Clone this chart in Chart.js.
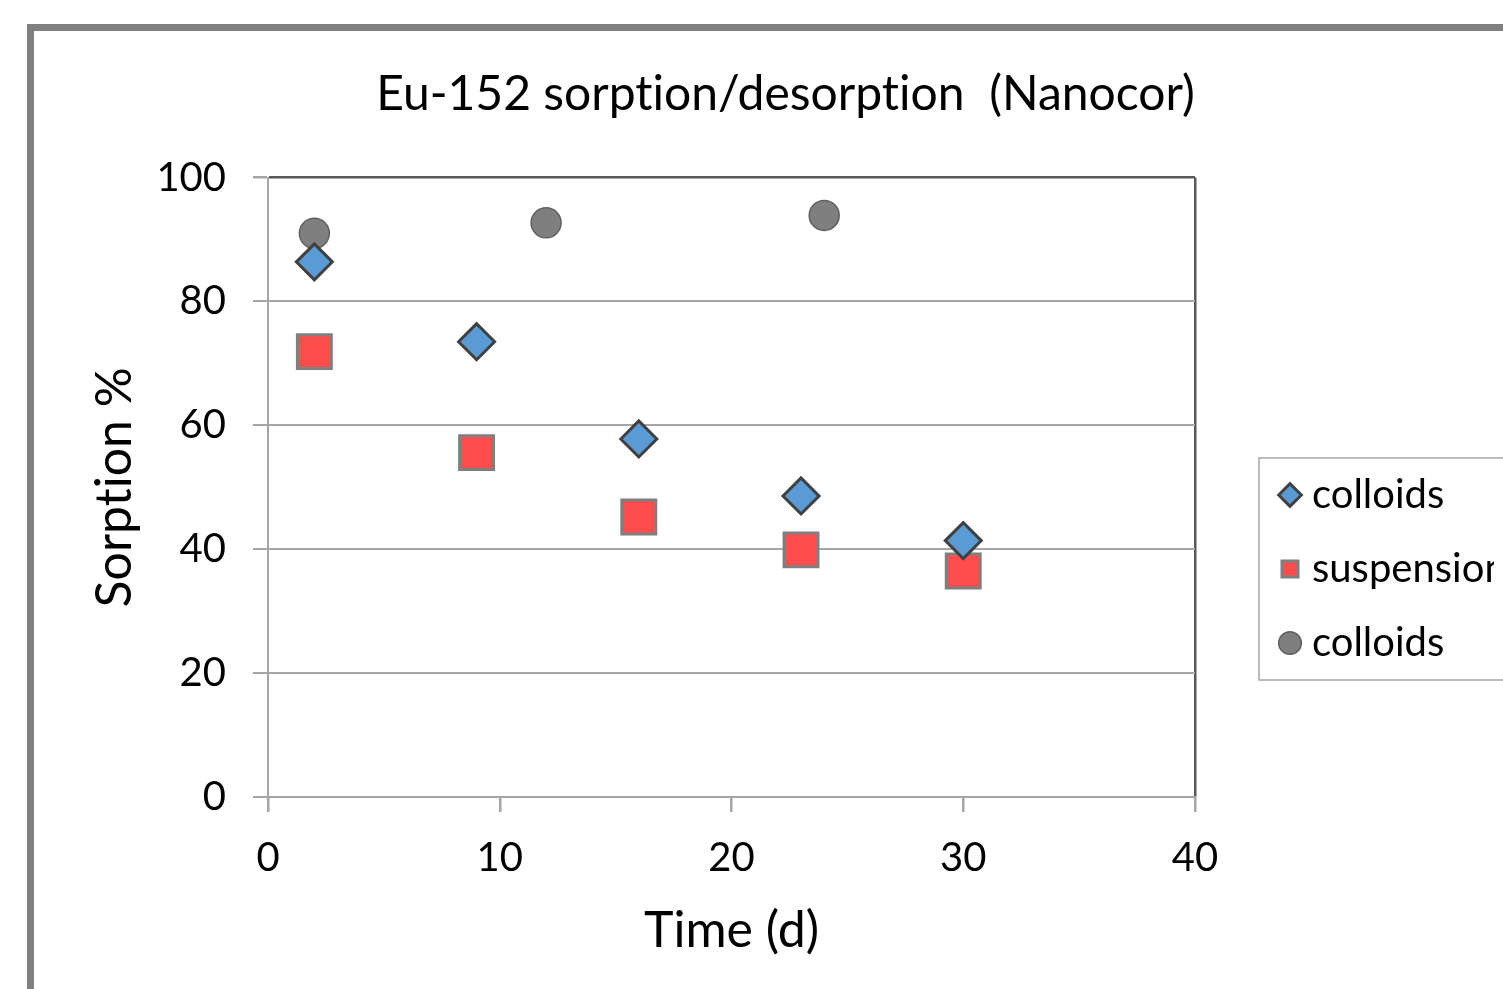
<!DOCTYPE html>
<html>
<head>
<meta charset="utf-8">
<title>Eu-152 sorption/desorption (Nanocor)</title>
<script src="https://cdn.jsdelivr.net/npm/chart.js@4.4.1/dist/chart.umd.min.js"></script>
<style>
  html, body { margin: 0; padding: 0; overflow: hidden; background: #fff; }
  #frame { position: absolute; left: 27px; top: 24px; border: 7px solid #808080; width: 1530px; height: 1110px; }
  canvas { display: block; }
</style>
</head>
<body>
<div id="frame"><canvas id="sorptionChart" width="1530" height="1110"></canvas></div>
<script>
// values
var sorptionDays = [2, 9, 16, 23, 30];
var colloidsSorption = [86.4, 73.5, 57.8, 48.6, 41.4];
var suspensionSorption = [71.9, 55.6, 45.2, 39.9, 36.5];
var desorptionDays = [2, 12, 24];
var colloidsDesorption = [91.0, 92.7, 93.9];
var xTickValues = [0, 10, 20, 30, 40];
var yTickValues = [0, 20, 40, 60, 80, 100];

var fontFamily = 'Lato, "Open Sans", sans-serif';
var gridGrey = "#a6a6a6";
var darkGrey = "#595959";

function toPoints(xs, ys) {
  return xs.map(function (x, i) {
    return { x: x, y: ys[i] };
  });
}

// no "ti" ligatures, Calibri has none
var plainText = {
  id: "plainText",
  beforeInit: function (chart) {
    chart.ctx.textRendering = "optimizeSpeed";
  },
  beforeDraw: function (chart) {
    chart.ctx.textRendering = "optimizeSpeed";
  },
};

// box round the legend, like Excel
var legendBox = {
  id: "legendBox",
  afterDraw: function (chart) {
    var boxes = chart.legend.legendHitBoxes;
    if (!boxes || !boxes.length) return;
    var first = boxes[0];
    var last = boxes[boxes.length - 1];
    var ctx = chart.ctx;
    var x0 = first.left - 29;
    var y0 = first.top - 17;
    var y1 = last.top + last.height + 17;
    ctx.save();
    ctx.strokeStyle = gridGrey;
    ctx.lineWidth = 1.5;
    ctx.strokeRect(x0, y0, 400, y1 - y0);
    ctx.restore();
  },
};

var ctxSorption = document.getElementById("sorptionChart").getContext("2d");
var sorptionChart = new Chart(ctxSorption, {
  type: "scatter",
  data: {
    datasets: [
      {
        label: "colloids",
        data: toPoints(sorptionDays, colloidsSorption),
        pointStyle: "rectRot",
        pointRadius: 18,
        backgroundColor: "#5b9bd5",
        borderColor: "#404040",
        borderWidth: 3,
      },
      {
        label: "suspension",
        data: toPoints(sorptionDays, suspensionSorption),
        pointStyle: "rect",
        pointRadius: 24,
        backgroundColor: "#ff4d4d",
        borderColor: "#7f7f7f",
        borderWidth: 3,
      },
      {
        label: "colloids",
        data: toPoints(desorptionDays, colloidsDesorption),
        pointStyle: "circle",
        pointRadius: 15,
        backgroundColor: "#7f7f7f",
        borderColor: "#606060",
        borderWidth: 1.5,
      },
    ],
  },
  options: {
    responsive: false,
    animation: false,
    events: [],
    layout: { padding: { left: 43, right: 70, top: 0, bottom: 34 } },
    plugins: {
      title: {
        display: true,
        text: "Eu-152 sorption/desorption  (Nanocor)",
        color: "#000",
        font: { family: fontFamily, size: 48, weight: "normal" },
        padding: { top: 35, bottom: 54 },
      },
      legend: {
        position: "right",
        maxWidth: 240,
        labels: {
          usePointStyle: true,
          boxWidth: 4,
          boxHeight: 16,
          padding: 34,
          color: "#000",
          font: { family: fontFamily, size: 40 },
        },
      },
      tooltip: { enabled: false },
    },
    scales: {
      x: {
        type: "linear",
        min: 0,
        max: 40,
        afterBuildTicks: function (scale) {
          scale.ticks = xTickValues.map(function (v) {
            return { value: v };
          });
        },
        afterFit: function (scale) {
          scale.height = 310;
        },
        ticks: {
          color: "#000",
          padding: 22,
          font: { family: fontFamily, size: 40 },
        },
        grid: {
          color: function (c) {
            return c.tick && c.tick.value === 40 ? darkGrey : "rgba(0,0,0,0)";
          },
          lineWidth: 2.5,
          tickColor: gridGrey,
          tickLength: 15,
        },
        border: { color: gridGrey, width: 2 },
        title: {
          display: true,
          text: "Time (d)",
          color: "#000",
          font: { family: fontFamily, size: 50 },
          padding: { top: 0, bottom: 146 },
        },
      },
      y: {
        type: "linear",
        min: 0,
        max: 100,
        afterBuildTicks: function (scale) {
          scale.ticks = yTickValues.map(function (v) {
            return { value: v };
          });
        },
        afterFit: function (scale) {
          scale.width = 191;
        },
        ticks: {
          color: "#000",
          padding: 27,
          font: { family: fontFamily, size: 40 },
        },
        grid: {
          color: function (c) {
            return c.tick && c.tick.value === 100 ? darkGrey : gridGrey;
          },
          lineWidth: function (c) {
            return c.tick && c.tick.value === 100 ? 2.5 : 2;
          },
          tickColor: gridGrey,
          tickLength: 15,
        },
        border: { color: gridGrey, width: 2 },
        title: {
          display: true,
          text: "Sorption %",
          color: "#000",
          font: { family: fontFamily, size: 50 },
          padding: { top: 8, bottom: 0 },
        },
      },
      // empty space between plot and legend
      gap: {
        type: "linear",
        position: "right",
        display: true,
        grid: { display: false, drawTicks: false },
        border: { display: false },
        ticks: { display: false },
        afterFit: function (scale) {
          scale.width = 59;
        },
      },
    },
  },
  plugins: [plainText, legendBox],
});
</script>
</body>
</html>
